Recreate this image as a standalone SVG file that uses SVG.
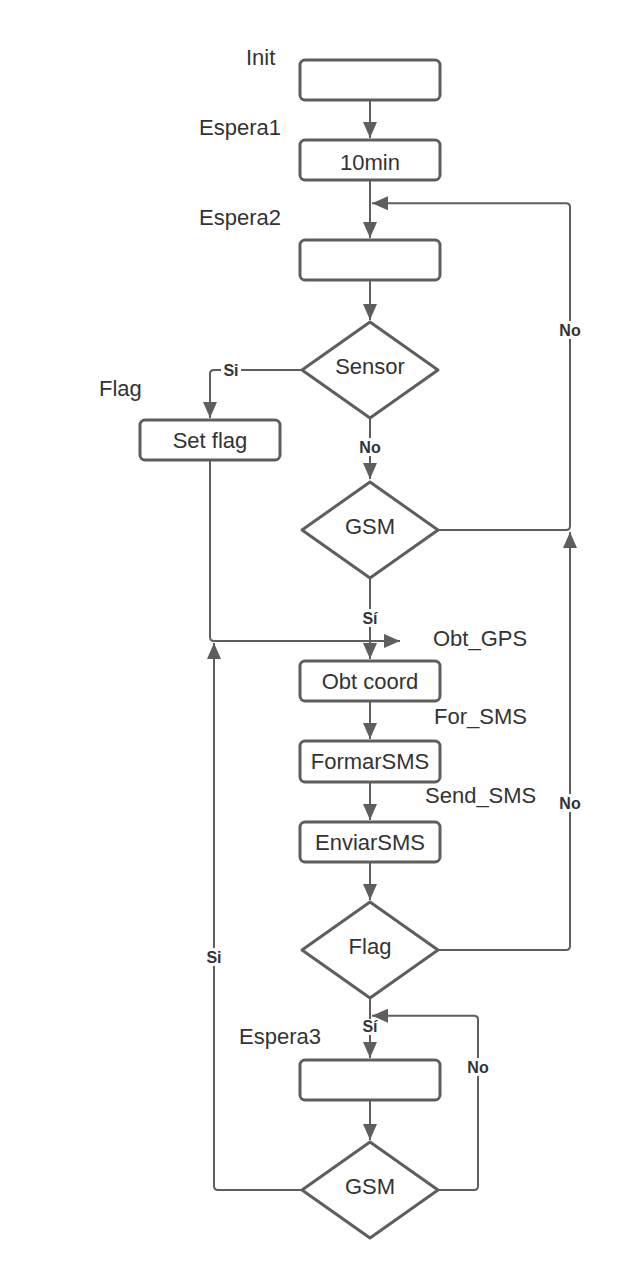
<svg xmlns="http://www.w3.org/2000/svg" width="622" height="1280" viewBox="0 0 622 1280">
<style>
.box{fill:#fff;stroke:#5e5e5e;stroke-width:3;stroke-linejoin:round}
.conn{fill:none;stroke:#5e5e5e;stroke-width:2}
.t{font-family:"Liberation Sans",Arial,sans-serif;font-size:22px;fill:#333}
.c{text-anchor:middle}
.lb{font-family:"Liberation Sans",Arial,sans-serif;font-size:16px;font-weight:bold;fill:#333;text-anchor:middle;dominant-baseline:central}
.bg{fill:#fff}
</style>
<defs>
<marker id="arr" markerUnits="userSpaceOnUse" markerWidth="18" markerHeight="14" refX="16" refY="7" orient="auto">
<path d="M0,0 L16,7 L0,14 Z" fill="#5e5e5e"/>
</marker>
</defs>
<rect width="622" height="1280" fill="#fff"/>
<g id="connectors">
<path class="conn" d="M370,100 V138" marker-end="url(#arr)"/>
<path class="conn" d="M370,180 V238" marker-end="url(#arr)"/>
<path class="conn" d="M438,530 H566 Q570,530 570,526 V207.3 Q570,203.3 566,203.3 H372" marker-end="url(#arr)"/>
<path class="conn" d="M370,280 V320" marker-end="url(#arr)"/>
<path class="conn" d="M302,370 H214 Q210,370 210,374 V418" marker-end="url(#arr)"/>
<path class="conn" d="M370,418 V479" marker-end="url(#arr)"/>
<path class="conn" d="M370,578 V659" marker-end="url(#arr)"/>
<path class="conn" d="M210,460 V637 Q210,641 214,641 H400" marker-end="url(#arr)"/>
<path class="conn" d="M370,701 V739" marker-end="url(#arr)"/>
<path class="conn" d="M370,782 V820" marker-end="url(#arr)"/>
<path class="conn" d="M370,862 V900" marker-end="url(#arr)"/>
<path class="conn" d="M438,950 H566 Q570,950 570,946 V532" marker-end="url(#arr)"/>
<path class="conn" d="M370,998 V1058" marker-end="url(#arr)"/>
<path class="conn" d="M370,1100 V1140" marker-end="url(#arr)"/>
<path class="conn" d="M438,1190 H474 Q478,1190 478,1186 V1019.7 Q478,1015.7 474,1015.7 H372" marker-end="url(#arr)"/>
<path class="conn" d="M302,1190 H218 Q214,1190 214,1186 V643" marker-end="url(#arr)"/>
<rect class="bg" x="221" y="361" width="20" height="18"/><text class="lb" x="231" y="370">Si</text>
<rect class="bg" x="358" y="438" width="24" height="18"/><text class="lb" x="370" y="447">No</text>
<rect class="bg" x="558" y="321" width="24" height="18"/><text class="lb" x="570" y="330">No</text>
<rect class="bg" x="360" y="609" width="20" height="18"/><text class="lb" x="370" y="618">Sí</text>
<rect class="bg" x="558" y="794" width="24" height="18"/><text class="lb" x="570" y="803">No</text>
<rect class="bg" x="204" y="948" width="20" height="18"/><text class="lb" x="214" y="957">Si</text>
<rect class="bg" x="362" y="1019" width="16" height="16"/><text class="lb" x="370" y="1026">Sí</text>
<rect class="bg" x="466" y="1058" width="24" height="18"/><text class="lb" x="478" y="1067">No</text>
</g>
<g id="init"><rect class="box" x="300" y="60" width="140" height="40" rx="5"/><text class="t" x="246" y="65">Init</text></g>
<g id="espera1"><rect class="box" x="300" y="140" width="140" height="40" rx="5"/><text class="t c" x="370" y="170">10min</text><text class="t" x="199" y="135">Espera1</text></g>
<g id="espera2"><rect class="box" x="300" y="240" width="140" height="40" rx="5"/><text class="t" x="199" y="225">Espera2</text></g>
<g id="sensor"><path class="box" d="M370,322 L438,370 L370,418 L302,370 Z"/><text class="t c" x="370" y="374">Sensor</text></g>
<g id="setflag"><rect class="box" x="140" y="420" width="140" height="40" rx="5"/><text class="t c" x="210" y="448">Set flag</text><text class="t" x="99" y="396">Flag</text></g>
<g id="gsm1"><path class="box" d="M370,482 L438,530 L370,578 L302,530 Z"/><text class="t c" x="370" y="534">GSM</text></g>
<g id="obtgps"><rect class="box" x="300" y="661" width="140" height="40" rx="5"/><text class="t c" x="370" y="689">Obt coord</text><text class="t" x="433" y="646">Obt_GPS</text></g>
<g id="forsms"><rect class="box" x="300" y="741" width="140" height="41" rx="5"/><text class="t c" x="370" y="769">FormarSMS</text><text class="t" x="434" y="724">For_SMS</text></g>
<g id="sendsms"><rect class="box" x="300" y="822" width="140" height="40" rx="5"/><text class="t c" x="370" y="850">EnviarSMS</text><text class="t" x="425" y="803">Send_SMS</text></g>
<g id="flag"><path class="box" d="M370,902 L438,950 L370,998 L302,950 Z"/><text class="t c" x="370" y="954">Flag</text></g>
<g id="espera3"><rect class="box" x="300" y="1060" width="140" height="40" rx="5"/><text class="t" x="239" y="1044">Espera3</text></g>
<g id="gsm2"><path class="box" d="M370,1142 L438,1190 L370,1238 L302,1190 Z"/><text class="t c" x="370" y="1194">GSM</text></g>
</svg>
